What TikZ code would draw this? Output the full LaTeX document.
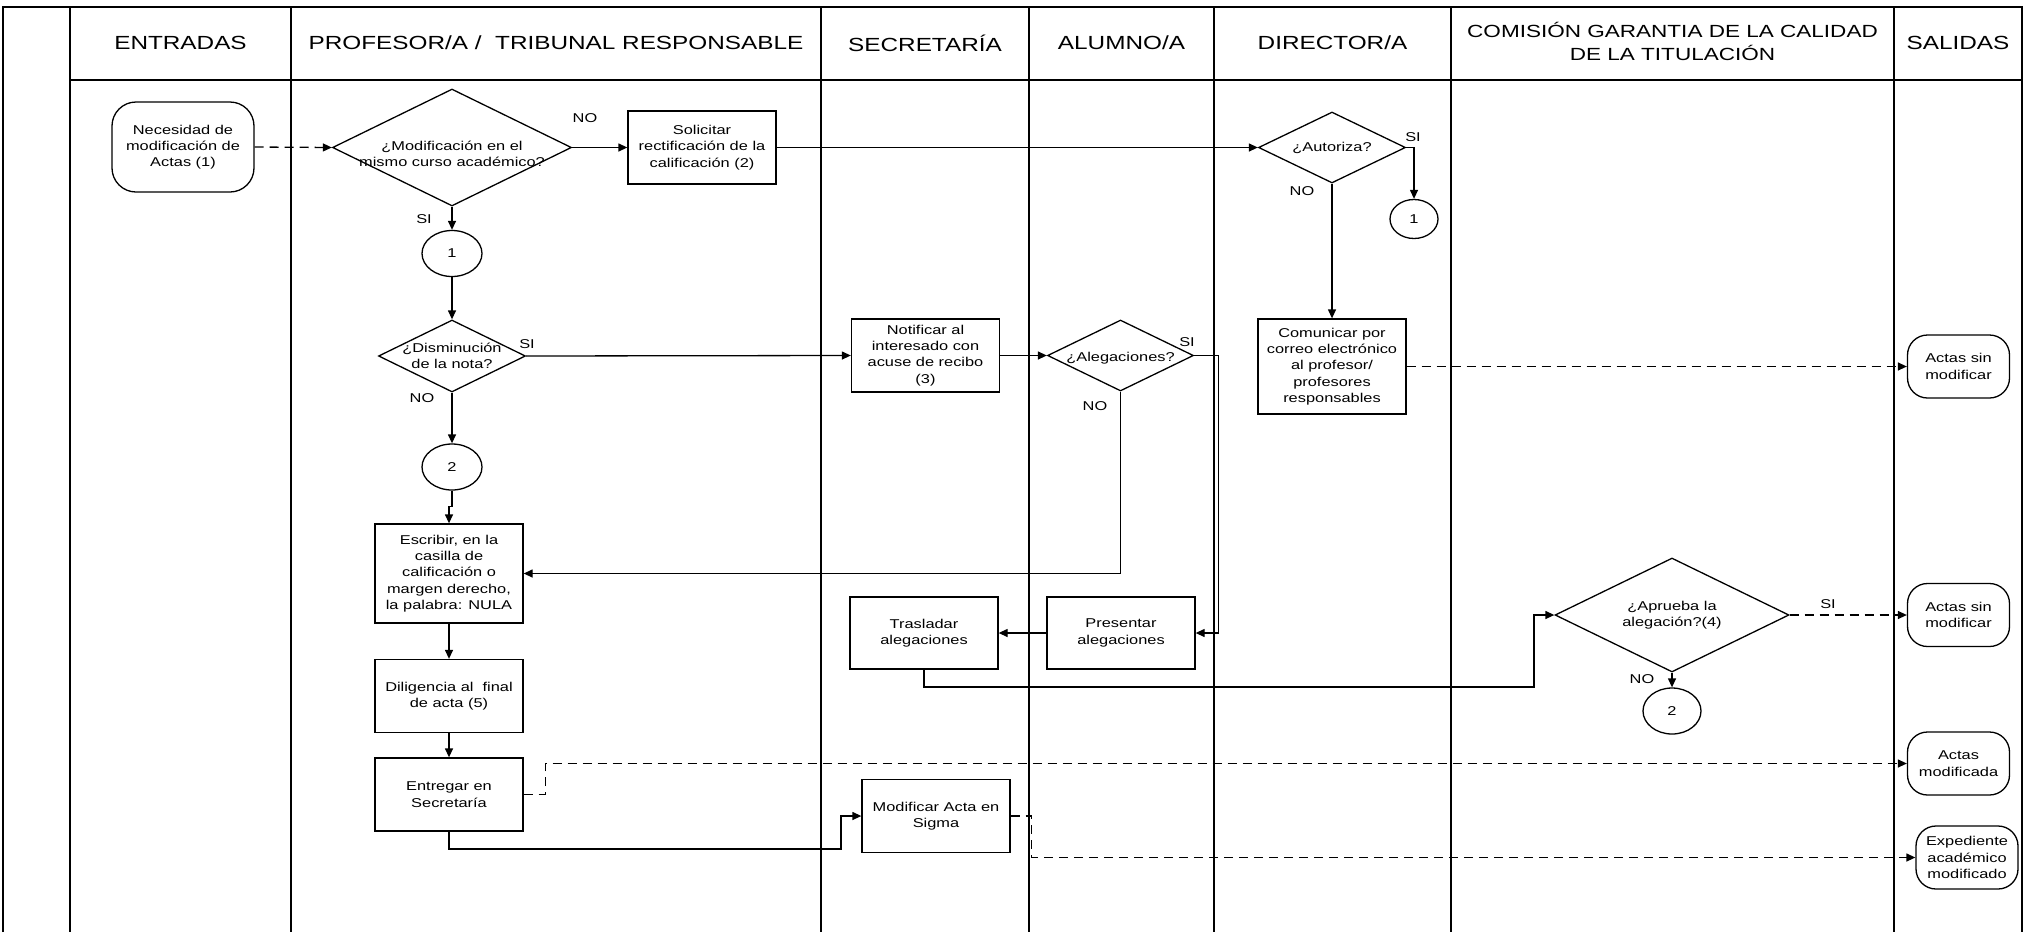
\documentclass[tikz,border=0pt]{standalone}
\usepackage{fontspec}
\setmainfont{Liberation Sans}[FakeStretch=1.28]
\usetikzlibrary{arrows.meta,shapes.geometric,calc}
\begin{document}
\begin{tikzpicture}[x=1pt,y=-1pt,
  lane/.style={line width=1.7pt},
  txt/.style={font=\fontsize{12.8}{16.3}\selectfont, align=center, inner sep=0pt},
  hdr/.style={font=\fontsize{19}{23}\selectfont, align=center, inner sep=0pt},
  box/.style={draw, line width=1.3pt, rectangle, txt, minimum width=148pt, minimum height=73pt},
  term/.style={draw, line width=1.3pt, rectangle, rounded corners=20pt, txt, minimum width=102pt, minimum height=63pt},
  dec/.style={draw, line width=1.3pt, diamond, inner sep=0pt},
  conn/.style={draw, line width=1.3pt, ellipse, txt, minimum width=60pt, minimum height=46pt},
  arr/.style={line width=1.3pt, -{Triangle[length=9pt,width=8pt]}},
  darr/.style={arr, dash pattern=on 9pt off 6pt},
  lbl/.style={txt}
]
\useasboundingbox (0,0) rectangle (2024,932);
% lanes
\draw[lane] (3,932) -- (3,7) -- (2022,7) -- (2022,932);
\draw[lane] (70,80) -- (2022,80);
\foreach \x in {70,291,821,1029,1214,1451,1894}
  \draw[lane] (\x,7) -- (\x,932);
% headers
\node[hdr] (h1) at (180.5,43) {ENTRADAS};
\node[hdr] (h2) at (556,43) {PROFESOR/A /\ \ TRIBUNAL RESPONSABLE};
\node[hdr] (h3) at (925,43) {SECRETARÍA};
\node[hdr] (h4) at (1121.5,43) {ALUMNO/A};
\node[hdr] (h5) at (1332.5,43) {DIRECTOR/A};
\node[hdr, font=\fontsize{17.6}{23}\selectfont] (h6) at (1672.5,41.5) {COMISIÓN GARANTIA DE LA CALIDAD\\DE LA TITULACIÓN};
\node[hdr] (h7) at (1958,43) {SALIDAS};
% nodes
\node[term, rounded corners=24pt, minimum width=142pt, minimum height=90pt] (nec) at (183,147) {Necesidad de\\modificación de\\Actas (1)};
\node[dec, minimum width=239pt, minimum height=117pt] (d1) at (452,147.5) {};
\node[txt] (d1t) at (452,154) {¿Modificación en el\\mismo curso académico?};
\node[box] (sol) at (702,147.5) {Solicitar\\rectificación de la\\calificación (2)};
\node[dec, minimum width=147pt, minimum height=71pt] (aut) at (1332,147.5) {};
\node[txt] (autt) at (aut.center) {¿Autoriza?};
\node[conn, minimum width=48pt, minimum height=39pt] (c1b) at (1414,219) {1};
\node[box, minimum height=95pt] (com) at (1332,366.5) {Comunicar por\\correo electrónico\\al profesor/\\profesores\\responsables};
\node[term] (out1) at (1958.5,366.5) {Actas sin\\modificar};
\node[conn] (c1) at (452,253.5) {1};
\node[dec, minimum width=147pt, minimum height=72pt] (dis) at (452,356) {};
\node[txt] (dist) at (dis.center) {¿Disminución\\de la nota?};
\node[box] (not) at (925.5,355.5) {Notificar al\\interesado con\\acuse de recibo\\(3)};
\node[dec, minimum width=146pt, minimum height=71pt] (ale) at (1120.5,355.5) {};
\node[txt] (alet) at (1120.5,358) {¿Alegaciones?};
\node[conn] (c2) at (452,467) {2};
\node[box, minimum height=99pt] (esc) at (449,573.5) {Escribir, en la\\casilla de\\calificación o\\margen derecho,\\la palabra: NULA};
\node[box] (dil) at (449,696) {Diligencia al\ \ final\\de acta (5)};
\node[box] (ent) at (449,794.5) {Entregar en\\Secretaría};
\node[box] (mod) at (936,816) {Modificar Acta en\\Sigma};
\node[box, minimum height=72pt] (tra) at (924,633) {Trasladar\\alegaciones};
\node[box, minimum height=72pt] (pre) at (1121,633) {Presentar\\alegaciones};
\node[dec, minimum width=234pt, minimum height=114pt] (apr) at (1672,615) {};
\node[txt] (aprt) at (apr.center) {¿Aprueba la\\alegación?(4)};
\node[term] (out2) at (1958.5,615) {Actas sin\\modificar};
\node[conn, minimum width=58pt] (c2b) at (1672,711) {2};
\node[term] (out3) at (1958.5,763.5) {Actas\\modificada};
\node[term] (out4) at (1967,857.5) {Expediente\\académico\\modificado};
% labels
\node[lbl] (l1) at (585,118) {NO};
\node[lbl] (l2) at (424,219) {SI};
\node[lbl] (l3) at (1413,137) {SI};
\node[lbl] (l4) at (1302,191) {NO};
\node[lbl] (l5) at (527,344) {SI};
\node[lbl] (l6) at (422,398) {NO};
\node[lbl] (l7) at (1187,342) {SI};
\node[lbl] (l8) at (1095,406) {NO};
\node[lbl] (l9) at (1828,604) {SI};
\node[lbl] (l10) at (1642,679) {NO};
% junctions
\coordinate (j1) at (1534,687);
\coordinate (j2) at (841,849);
% connectors
\draw[darr] (nec.east) -- (d1.west);
\draw[arr] (d1.east) -- (sol.west);
\draw[arr] (sol.east) -- (aut.west);
\draw[arr] (aut.east) -| (c1b.north);
\draw[arr] (aut.south) -- (com.north);
\draw[darr] (com.east) -- (out1.west);
\draw[arr] (d1.south) -- (c1.north);
\draw[arr] (c1.south) -- (dis.north);
\draw[arr] (dis.east) -- (not.west);
\draw[arr] (not.east) -- (ale.west);
\draw[arr] (ale.east) -- ++(24,0) |- (pre.east);
\draw[arr] (ale.south) |- (esc.east);
\draw[arr] (dis.south) -- (c2.north);
\draw[arr] (c2.south) -- ++(0,16) -| (esc.north);
\draw[arr] (esc.south) -- (dil.north);
\draw[arr] (dil.south) -- (ent.north);
\draw[arr] (ent.south) |- (j2) |- (mod.west);
\draw[darr] (ent.east) -- ++(21.5,0) |- (out3.west);
\draw[darr] (mod.east) -- ++(21,0) |- (out4.west);
\draw[arr] (pre.west) -- (tra.east);
\draw[arr] (tra.south) |- (j1) |- (apr.west);
\draw[darr] (apr.east) -- (out2.west);
\draw[arr] (apr.south) -- (c2b.north);
\end{tikzpicture}
\end{document}
